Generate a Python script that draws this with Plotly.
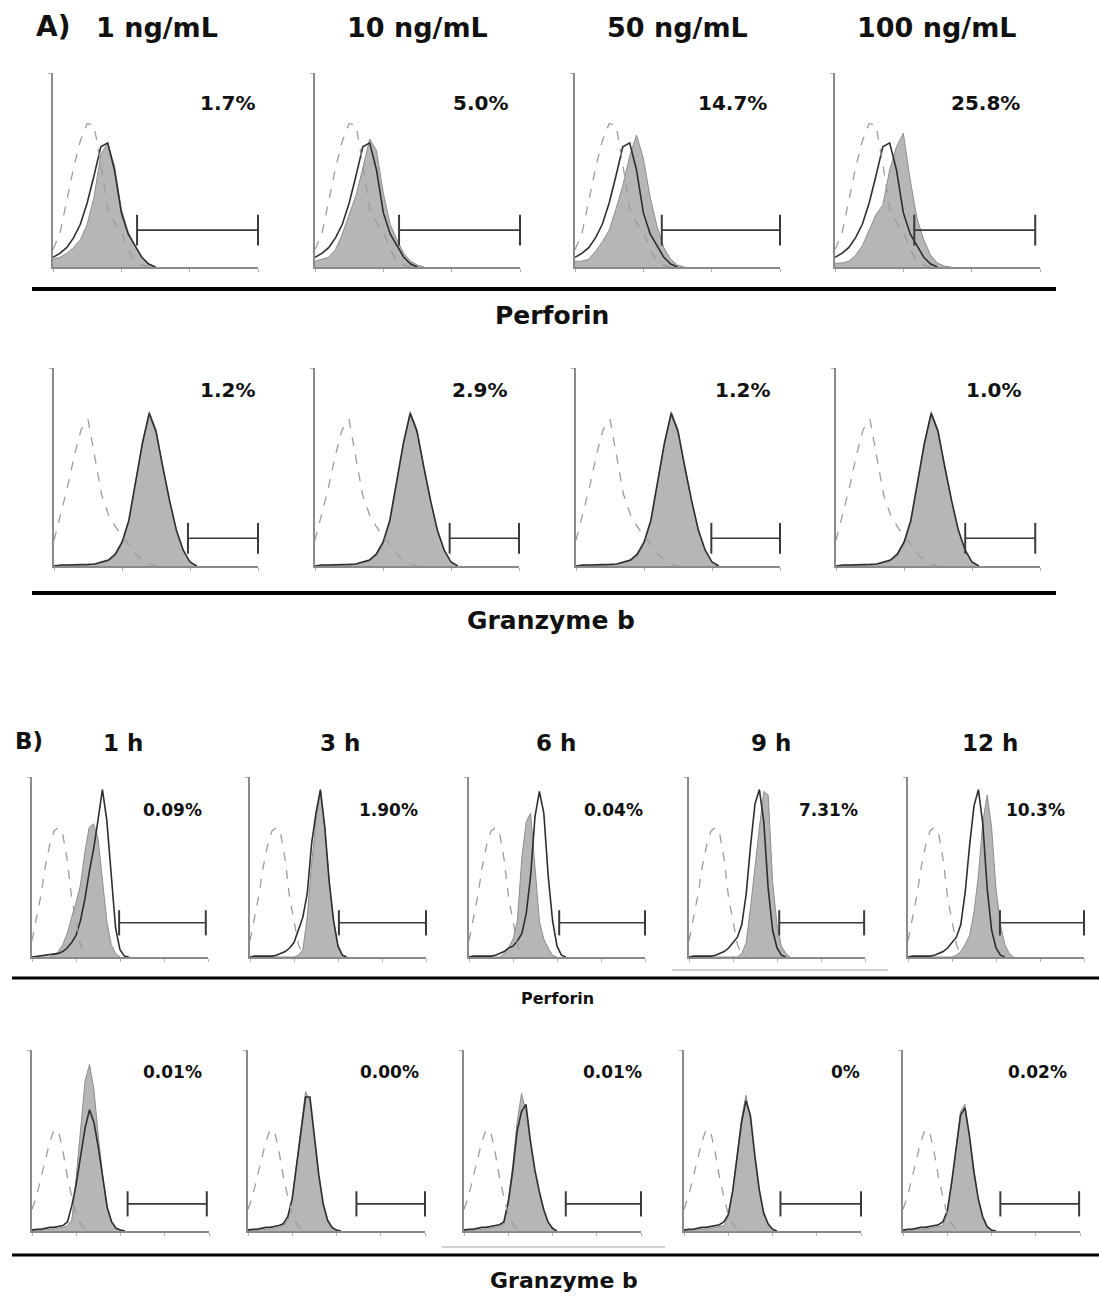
import plotly.graph_objects as go

W, H = 1099, 1300

# ---------------- DATA ----------------
# channel bins (log decades)
GRID_A = [round(0.1 * i, 1) for i in range(23)]   # 0.0 .. 2.2
GRID_B = [round(0.1 * i, 1) for i in range(26)]   # 0.0 .. 2.5

# Panel A — Perforin (dose)
A_DOSES = ["1 ng/mL", "10 ng/mL", "50 ng/mL", "100 ng/mL"]
A_PERF_PCT = ["1.7%", "5.0%", "14.7%", "25.8%"]
A_PERF_ISO = [.09, .17, .34, .51, .65, .74, .73, .53, .30, .23, .18, .09, .03, .01, 0, 0, 0, 0, 0, 0, 0, 0, 0]
A_PERF_CTRL = [.05, .07, .10, .15, .22, .33, .47, .62, .64, .50, .28, .17, .11, .05, .015, 0, 0, 0, 0, 0, 0, 0, 0]
A_PERF_TRT_1 = [.04, .05, .07, .10, .14, .22, .36, .58, .64, .52, .30, .18, .11, .05, .015, 0, 0, 0, 0, 0, 0, 0, 0]
A_PERF_TRT_10 = [.03, .04, .05, .09, .17, .27, .37, .51, .66, .60, .38, .22, .14, .07, .03, .01, 0, 0, 0, 0, 0, 0, 0]
A_PERF_TRT_50 = [.03, .03, .04, .08, .13, .19, .30, .42, .57, .68, .56, .36, .21, .10, .04, .01, 0, 0, 0, 0, 0, 0, 0]
A_PERF_TRT_100 = [.02, .02, .03, .06, .11, .19, .27, .32, .50, .62, .69, .45, .25, .14, .06, .02, .005, 0, 0, 0, 0, 0, 0]
A_PERF_GATE = [(1.23, 3.0), (1.23, 3.0), (1.27, 3.0), (1.16, 2.93)]

# Panel A — Granzyme b (dose)
A_GZ_PCT = ["1.2%", "2.9%", "1.2%", "1.0%"]
A_GZ_ISO = [.13, .26, .40, .56, .69, .74, .54, .36, .26, .20, .15, .11, .06, .03, .01, 0, 0, 0, 0, 0, 0, 0, 0]
A_GZ_CTRL = [0, .005, .005, .005, .005, .008, .01, .02, .03, .06, .12, .23, .43, .62, .77, .68, .50, .33, .18, .08, .02, 0, 0]
A_GZ_TRT = [0, .004, .004, .004, .004, .006, .008, .015, .025, .05, .11, .22, .42, .62, .78, .69, .50, .33, .18, .08, .02, 0, 0]
A_GZ_GATE = [(1.97, 3.0), (1.98, 3.0), (1.99, 3.0), (1.90, 2.93)]

# Panel B — Perforin (time)
B_TIMES = ["1 h", "3 h", "6 h", "9 h", "12 h"]
B_PERF_PCT = ["0.09%", "1.90%", "0.04%", "7.31%", "10.3%"]
B_PERF_ISO = [.09, .22, .34, .50, .62, .70, .72, .68, .54, .33, .19, .07, .01, 0, 0, 0, 0, 0, 0, 0, 0, 0, 0, 0, 0, 0]
B_PERF_CTRL = [
    [0, .003, .005, .008, .01, .015, .02, .03, .05, .08, .12, .20, .32, .47, .60, .76, .93, .76, .44, .16, .04, .005, 0, 0, 0, 0],
    [0, .005, .005, .005, .005, .005, .01, .02, .03, .05, .08, .15, .22, .35, .63, .80, .93, .72, .42, .20, .06, .01, 0, 0, 0, 0],
    [0, .005, .005, .005, .005, .005, .01, .02, .03, .05, .06, .09, .13, .24, .45, .78, .92, .80, .45, .20, .06, .01, 0, 0, 0, 0],
    [0, .005, .005, .005, .005, .005, .01, .02, .03, .05, .08, .11, .18, .35, .62, .85, .93, .75, .38, .15, .05, .01, 0, 0, 0, 0],
    [0, .005, .005, .005, .005, .005, .01, .02, .03, .05, .08, .11, .18, .36, .62, .84, .93, .74, .38, .15, .05, .01, 0, 0, 0, 0],
]
B_PERF_TRT = [
    [0, 0, 0, 0, 0, .01, .03, .07, .13, .22, .30, .40, .58, .72, .74, .66, .42, .20, .07, .02, 0, 0, 0, 0, 0, 0],
    [0, 0, 0, 0, 0, 0, 0, 0, 0, 0, 0, .01, .04, .22, .52, .76, .92, .72, .42, .20, .06, .01, 0, 0, 0, 0],
    [0, 0, 0, 0, 0, 0, 0, 0, .02, .05, .10, .20, .55, .75, .80, .52, .20, .10, .05, .01, 0, 0, 0, 0, 0, 0],
    [0, 0, 0, 0, 0, 0, 0, 0, 0, 0, 0, 0, .02, .08, .28, .52, .72, .92, .90, .42, .18, .06, .02, 0, 0, 0],
    [0, 0, 0, 0, 0, 0, 0, 0, 0, 0, 0, .01, .03, .07, .12, .25, .45, .75, .90, .72, .38, .18, .07, .02, 0, 0],
]
B_PERF_GATE = [(1.98, 3.95), (2.02, 4.0), (2.05, 4.0), (2.05, 3.98), (2.09, 4.0)]

# Panel B — Granzyme b (time)
B_GZ_PCT = ["0.01%", "0.00%", "0.01%", "0%", "0.02%"]
B_GZ_ISO = [.12, .19, .29, .39, .49, .56, .55, .44, .30, .19, .09, .04, .01, 0, 0, 0, 0, 0, 0, 0, 0, 0, 0, 0, 0, 0]
B_GZ_CTRL = [
    [.005, .01, .01, .015, .02, .02, .025, .03, .05, .14, .26, .42, .57, .67, .60, .46, .28, .13, .05, .015, .005, 0, 0, 0, 0, 0],
    [.005, .01, .01, .015, .02, .02, .025, .03, .04, .08, .18, .36, .57, .74, .74, .52, .31, .15, .06, .02, .005, 0, 0, 0, 0, 0],
    [.005, .01, .01, .015, .02, .02, .025, .03, .035, .05, .16, .33, .55, .66, .70, .50, .34, .22, .12, .05, .015, 0, 0, 0, 0, 0],
    [.005, .01, .01, .015, .02, .02, .025, .03, .035, .05, .09, .22, .40, .60, .72, .64, .42, .23, .10, .04, .01, 0, 0, 0, 0, 0],
    [.005, .01, .01, .015, .02, .02, .025, .03, .035, .05, .11, .27, .46, .64, .68, .53, .33, .18, .08, .025, .005, 0, 0, 0, 0, 0],
]
B_GZ_TRT = [
    [.005, .005, .005, .01, .01, .01, .015, .02, .03, .06, .30, .58, .83, .92, .78, .52, .30, .13, .05, .015, .005, 0, 0, 0, 0, 0],
    [.005, .005, .005, .01, .01, .01, .015, .02, .03, .06, .18, .38, .60, .77, .72, .50, .30, .14, .05, .015, .005, 0, 0, 0, 0, 0],
    [.005, .005, .005, .01, .01, .01, .015, .02, .025, .04, .17, .36, .60, .76, .66, .48, .33, .21, .11, .05, .015, 0, 0, 0, 0, 0],
    [.005, .005, .005, .01, .01, .01, .015, .02, .025, .03, .08, .22, .42, .62, .75, .62, .40, .22, .10, .04, .01, 0, 0, 0, 0, 0],
    [.005, .005, .005, .01, .01, .01, .015, .02, .025, .03, .10, .26, .46, .66, .70, .52, .32, .17, .07, .02, .005, 0, 0, 0, 0, 0],
]
B_GZ_GATE = [(2.16, 3.95), (2.45, 4.0), (2.30, 4.0), (2.18, 4.0), (2.20, 3.98)]

# ---------------- LAYOUT GEOMETRY (pixels) ----------------
def fx(px):
    return px / W


def fy(py):
    return 1 - py / H


FONT = "DejaVu Sans"
FILL = "#b6b6b6"
FILL_EDGE = "#8e8e8e"
CTRL_COLOR = "#2e2e2e"
ISO_COLOR = "#9c9c9c"
AXIS_COLOR = "#8a8a8a"

rows = [
    dict(x0=[53, 315, 575, 835], w=205, top=73, base=267, xmax=3, grid=GRID_A,
         iso=[A_PERF_ISO] * 4, ctrl=[A_PERF_CTRL] * 4,
         trt=[A_PERF_TRT_1, A_PERF_TRT_10, A_PERF_TRT_50, A_PERF_TRT_100],
         gate=A_PERF_GATE, gate_y=0.19, gate_size=22,
         pct=A_PERF_PCT, pct_x=[227, 480, 733, 985], pct_y=103, pct_size=20),
    dict(x0=[54, 315, 576, 836], w=204, top=368, base=566, xmax=3, grid=GRID_A,
         iso=[A_GZ_ISO] * 4, ctrl=[A_GZ_CTRL] * 4, trt=[A_GZ_TRT] * 4,
         gate=A_GZ_GATE, gate_y=0.14, gate_size=22,
         pct=A_GZ_PCT, pct_x=[227, 479, 742, 993], pct_y=390, pct_size=20),
    dict(x0=[32, 250, 469, 689, 908], w=176, top=777, base=957, xmax=4, grid=GRID_B,
         iso=[B_PERF_ISO] * 5, ctrl=B_PERF_CTRL, trt=B_PERF_TRT,
         gate=B_PERF_GATE, gate_y=0.19, gate_size=18,
         pct=B_PERF_PCT, pct_x=[172, 388, 613, 828, 1035], pct_y=810, pct_size=17),
    dict(x0=[32, 248, 464, 684, 903], w=177, top=1050, base=1231, xmax=4, grid=GRID_B,
         iso=[B_GZ_ISO] * 5, ctrl=B_GZ_CTRL, trt=B_GZ_TRT,
         gate=B_GZ_GATE, gate_y=0.15, gate_size=18,
         pct=B_GZ_PCT, pct_x=[172, 389, 612, 845, 1037], pct_y=1072, pct_size=17),
]


def trim(xs, ys):
    """drop trailing zero bins (keep the first zero so the curve meets the baseline)"""
    last = len(ys) - 1
    while last > 0 and ys[last] == 0 and ys[last - 1] == 0:
        last -= 1
    return xs[:last + 1], ys[:last + 1]


fig = go.Figure()
layout_axes = {}
annotations = []
n = 0
for row in rows:
    for i, x0 in enumerate(row["x0"]):
        n += 1
        xa = "x" if n == 1 else f"x{n}"
        ya = "y" if n == 1 else f"y{n}"
        xk = "xaxis" if n == 1 else f"xaxis{n}"
        yk = "yaxis" if n == 1 else f"yaxis{n}"
        layout_axes[xk] = dict(
            domain=[fx(x0), fx(x0 + row["w"])], range=[0, row["xmax"]], anchor=ya,
            showline=True, linecolor=AXIS_COLOR, linewidth=1.5, mirror=False,
            ticks="outside", ticklen=3, tickwidth=1, tickcolor="#b0b0b0",
            tickvals=list(range(row["xmax"] + 1)), showticklabels=False,
            showgrid=False, zeroline=False, fixedrange=True)
        layout_axes[yk] = dict(
            domain=[fy(row["base"]), fy(row["top"])], range=[0, 1], anchor=xa,
            showline=True, linecolor=AXIS_COLOR, linewidth=1.5,
            ticks="outside", ticklen=3, tickwidth=1, tickcolor="#b0b0b0",
            tickvals=[1], showticklabels=False,
            showgrid=False, zeroline=False, fixedrange=True)

        gx, gy = trim(row["grid"], row["trt"][i])
        fig.add_trace(go.Scatter(x=gx, y=gy, mode="lines", fill="tozeroy",
                                 fillcolor=FILL, line=dict(color=FILL_EDGE, width=1),
                                 xaxis=xa, yaxis=ya, showlegend=False, hoverinfo="skip"))
        cx, cy = trim(row["grid"], row["ctrl"][i])
        fig.add_trace(go.Scatter(x=cx, y=cy, mode="lines",
                                 line=dict(color=CTRL_COLOR, width=1.6),
                                 xaxis=xa, yaxis=ya, showlegend=False, hoverinfo="skip"))
        ix, iy = trim(row["grid"], row["iso"][i])
        fig.add_trace(go.Scatter(x=ix, y=iy, mode="lines",
                                 line=dict(color=ISO_COLOR, width=1.3, dash="dash"),
                                 xaxis=xa, yaxis=ya, showlegend=False, hoverinfo="skip"))
        g0, g1 = row["gate"][i]
        fig.add_trace(go.Scatter(x=[g0, g1], y=[row["gate_y"], row["gate_y"]],
                                 mode="lines+markers",
                                 line=dict(color="#3a3a3a", width=1.6),
                                 marker=dict(symbol="line-ns", size=row["gate_size"],
                                             line=dict(color="#3a3a3a", width=2)),
                                 cliponaxis=False,
                                 xaxis=xa, yaxis=ya, showlegend=False, hoverinfo="skip"))
        annotations.append(dict(x=fx(row["pct_x"][i]), y=fy(row["pct_y"]), xref="paper", yref="paper",
                                text=row["pct"][i], showarrow=False, xanchor="center", yanchor="middle",
                                font=dict(family=FONT, size=row["pct_size"], color="#111", weight="bold")))


def label(text, px, py, size):
    annotations.append(dict(x=fx(px), y=fy(py), xref="paper", yref="paper", text=text,
                            showarrow=False, xanchor="center", yanchor="middle",
                            font=dict(family=FONT, size=size, color="#111", weight="bold")))


# section titles
label("A)", 53, 27, 28)
for t, cx in zip(A_DOSES, [157, 417, 677, 937]):
    label(t, cx, 28, 27)
label("Perforin", 552, 315, 25)
label("Granzyme b", 551, 620, 25)

label("B)", 29, 741, 23)
for t, cx in zip(B_TIMES, [123, 340, 556, 771, 990]):
    label(t, cx, 743, 23)
label("Perforin", 557, 998, 16)
label("Granzyme b", 564, 1280, 22)

shapes = [
    dict(type="line", xref="paper", yref="paper", x0=fx(32), x1=fx(1056), y0=fy(289), y1=fy(289),
         line=dict(color="#000", width=4)),
    dict(type="line", xref="paper", yref="paper", x0=fx(32), x1=fx(1056), y0=fy(593), y1=fy(593),
         line=dict(color="#000", width=4)),
    dict(type="line", xref="paper", yref="paper", x0=fx(672), x1=fx(888), y0=fy(970), y1=fy(970),
         line=dict(color="#d0d0d0", width=2)),
    dict(type="line", xref="paper", yref="paper", x0=fx(12), x1=fx(1099), y0=fy(978), y1=fy(978),
         line=dict(color="#000", width=3)),
    dict(type="line", xref="paper", yref="paper", x0=fx(442), x1=fx(665), y0=fy(1247), y1=fy(1247),
         line=dict(color="#d0d0d0", width=2)),
    dict(type="line", xref="paper", yref="paper", x0=fx(12), x1=fx(1099), y0=fy(1255), y1=fy(1255),
         line=dict(color="#000", width=3)),
]

fig.update_layout(width=W, height=H, margin=dict(l=0, r=0, t=0, b=0),
                  paper_bgcolor="white", plot_bgcolor="rgba(0,0,0,0)",
                  annotations=annotations, shapes=shapes, **layout_axes)

fig.write_html("out.html", config={"displayModeBar": False},
               post_script="document.body.style.margin='0';document.body.style.padding='0';")
